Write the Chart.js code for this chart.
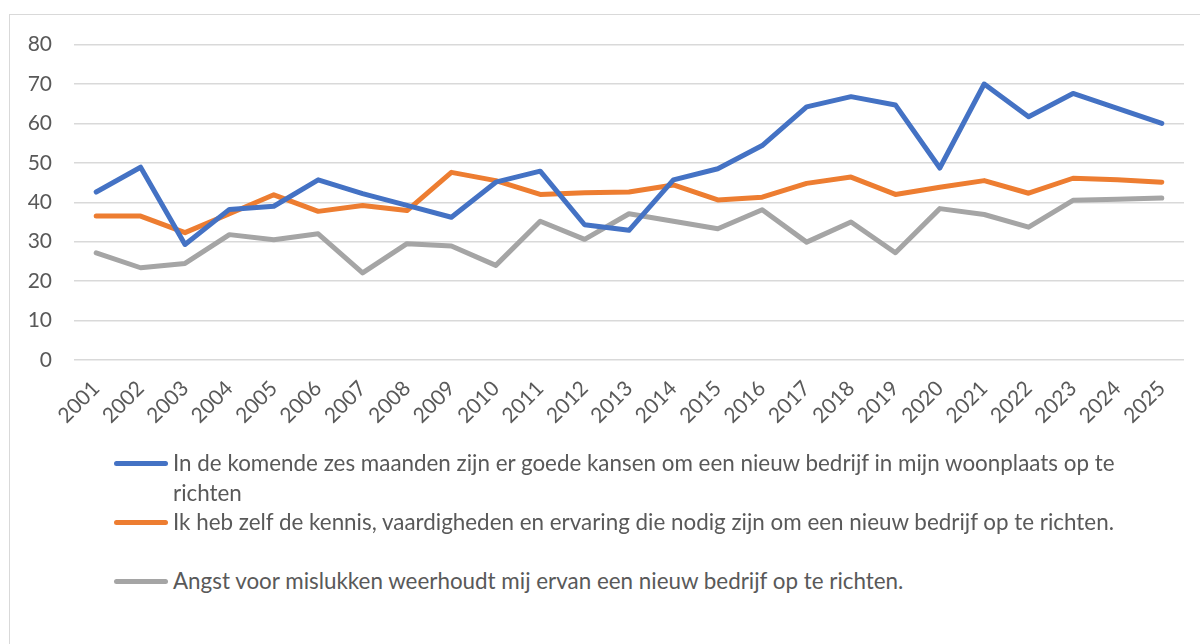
<!DOCTYPE html>
<html>
<head>
<meta charset="utf-8">
<script src="https://cdn.jsdelivr.net/npm/chart.js@4"></script>
<style>
  html, body { margin: 0; padding: 0; background: #fff; overflow: hidden; width: 1200px; height: 644px; }
  #frame { position: absolute; left: 9px; top: 14px; width: 1260px; height: 700px; border: 1px solid #d9d9d9; }
  #wrap { position: absolute; left: 0; top: -5px; width: 1191px; height: 440px; }
  #legend { position: absolute; left: 0; top: 0; font-family: Lato, "Open Sans", sans-serif; font-size: 22.4px; color: #595959; }
  .item { position: absolute; left: 104px; display: flex; align-items: flex-start; }
  .swatch { width: 54px; height: 5px; border-radius: 3px; margin-top: 13px; margin-right: 5px; flex: none; }
  .txt { width: 950px; line-height: 30px; }
</style>
</head>
<body>
<div id="frame">
  <div id="wrap"><canvas id="chart"></canvas></div>
  <div id="legend"></div>
</div>
<script>
const years = ['2001', '2002', '2003', '2004', '2005', '2006', '2007', '2008', '2009', '2010', '2011', '2012', '2013',
  '2014', '2015', '2016', '2017', '2018', '2019', '2020', '2021', '2022', '2023', '2024', '2025'];

const kansen = [42.6, 48.9, 29.3, 38.2, 39.0, 45.7, 42.2, 39.2, 36.2, 45.1, 47.9, 34.3, 32.9,
  45.7, 48.5, 54.4, 64.2, 66.8, 64.7, 48.7, 70.0, 61.7, 67.6, 63.8, 60.0];
const kennis = [36.5, 36.5, 32.3, 37.1, 41.9, 37.7, 39.2, 37.9, 47.6, 45.5, 42.0, 42.4, 42.6,
  44.4, 40.6, 41.3, 44.8, 46.4, 42.0, 43.8, 45.5, 42.3, 46.1, 45.7, 45.1];
const angst = [27.2, 23.4, 24.5, 31.8, 30.5, 32.0, 22.1, 29.5, 28.9, 24.0, 35.2, 30.6, 37.1,
  35.2, 33.3, 38.1, 29.9, 35.0, 27.2, 38.4, 36.9, 33.7, 40.5, 40.8, 41.1];

const seriesNames = [
  'In de komende zes maanden zijn er goede kansen om een nieuw bedrijf in mijn woonplaats op te richten',
  'Ik heb zelf de kennis, vaardigheden en ervaring die nodig zijn om een nieuw bedrijf op te richten.',
  'Angst voor mislukken weerhoudt mij ervan een nieuw bedrijf op te richten.'
];

const colors = ['#4472C4', '#ED7D31', '#A5A5A5'];
const legendTops = [433, 492, 551];

const FONT = 'Lato, "Open Sans", sans-serif';

const ctx = document.getElementById('chart').getContext('2d');
const chart = new Chart(ctx, {
  type: 'line',
  data: {
    labels: years,
    datasets: [kansen, kennis, angst].map((d, i) => ({
      label: seriesNames[i],
      data: d,
      borderColor: colors[i],
      backgroundColor: colors[i],
      borderWidth: 5,
      pointRadius: 0,
      tension: 0,
      borderCapStyle: 'round',
      borderJoinStyle: 'round'
    }))
  },
  options: {
    responsive: true,
    maintainAspectRatio: false,
    animation: false,
    layout: { padding: { top: 25, right: 17, left: 0, bottom: 0 } },
    plugins: {
      legend: { display: false },
      tooltip: { enabled: false }
    },
    scales: {
      x: {
        offset: true,
        grid: { display: false, drawTicks: false },
        border: { display: false },
        ticks: { color: '#595959', font: { family: FONT, size: 21 }, minRotation: 45, maxRotation: 45, padding: 16 },
        afterFit: s => { s.height = 90; }
      },
      y: {
        min: 0,
        max: 80,
        ticks: { stepSize: 10, color: '#595959', font: { family: FONT, size: 21 }, padding: 22 },
        grid: { color: '#d9d9d9', lineWidth: 1.5, drawTicks: false },
        border: { display: false },
        afterFit: s => { s.width = 64; }
      }
    }
  }
});

// legend built from the chart's datasets
const legend = document.getElementById('legend');
chart.data.datasets.forEach((ds, i) => {
  legend.innerHTML += `
    <div class="item" style="top:${legendTops[i]}px">
      <span class="swatch" style="background:${ds.borderColor}"></span>
      <span class="txt">${ds.label}</span>
    </div>`;
});
</script>
</body>
</html>
